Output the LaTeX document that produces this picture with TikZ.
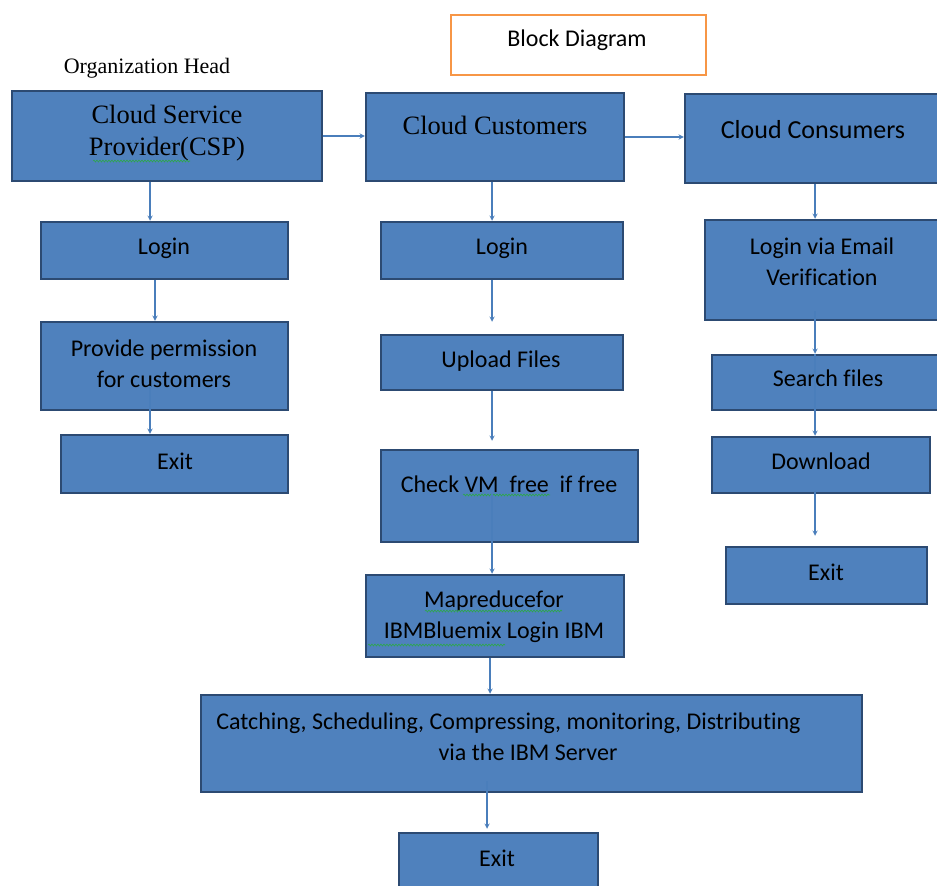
\documentclass[tikz,border=0pt]{standalone}
\usepackage{fontspec}
\setmainfont{Carlito}[Ligatures=NoCommon]
\newfontfamily\timesf{Liberation Serif}
\usetikzlibrary{decorations.pathmorphing}
\definecolor{boxblue}{HTML}{4F81BD}
\definecolor{boxedge}{HTML}{2C4A72}
\definecolor{linkblue}{HTML}{4A7EBB}
\definecolor{titleorange}{HTML}{F79646}
\definecolor{spellgreen}{HTML}{2DA84A}
\begin{document}
\begin{tikzpicture}[x=1pt, y=-1pt, >=stealth,
    blk/.style={draw=boxedge, fill=boxblue, line width=2.5pt, inner sep=0pt},
    wh/.style 2 args={minimum width=#1pt, minimum height=#2pt},
    txt/.style={font=\fontsize{24}{31}\selectfont, align=center, inner sep=0pt},
    sertxt/.style={font=\timesf\fontsize{26.5}{32}\selectfont, align=center, inner sep=0pt},
    flow/.style={draw=linkblue, line width=1.3pt, ->},
    spell/.style={draw=spellgreen, line width=0.6pt, decorate,
        decoration={snake, amplitude=1pt, segment length=3pt}}]
    \useasboundingbox (0,0) rectangle (937,886);
    \clip (0,0) rectangle (937,886);

    % title and heading
    \node[draw=titleorange, line width=2.5pt, wh={255}{60}] (title) at (578.5,45) {};
    \node[txt] (title-t) at (577,40) {Block Diagram};
    \node[font=\timesf\fontsize{22}{26}\selectfont, inner sep=0pt] (orghead) at (147,68) {Organization Head};

    % top row
    \node[blk, wh={310}{90}] (csp) at (167,136) {};
    \node[blk, wh={258}{88}] (cust) at (495,137) {};
    \node[blk, wh={260}{89}] (cons) at (815,138.5) {};
    \node[sertxt] (csp-t) at (167,133) {Cloud Service\\Provider(CSP)};
    \node[sertxt] (cust-t) at (495,125) {Cloud Customers};
    \node[txt, font=\fontsize{26}{31}\selectfont] (cons-t) at (813,130) {Cloud Consumers};

    % provider column
    \node[blk, wh={247}{57}] (lgl) at (164.5,250.5) {};
    \node[blk, wh={247}{88}] (perm) at (164.5,366) {};
    \node[blk, wh={227}{58}] (exl) at (174.5,464) {};
    \node[txt] (lgl-t) at (164,248) {Login};
    \node[txt] (perm-t) at (164,364) {Provide permission\\for customers};
    \node[txt] (exl-t) at (175,461) {Exit};

    % customer column
    \node[blk, wh={242}{57}] (lgm) at (502,250.5) {};
    \node[blk, wh={242}{55}] (upl) at (502,362.5) {};
    \node[blk, wh={257}{92}] (chk) at (509.5,496) {};
    \node[blk, wh={258}{82}] (mapr) at (495,616) {};
    \node[blk, wh={661}{97}] (cach) at (531.5,743.5) {};
    \node[blk, wh={199}{62}] (exm) at (498.5,864) {};
    \node[txt] (lgm-t) at (502,248) {Login};
    \node[txt] (upl-t) at (501,361) {Upload Files};
    \node[txt] (chk-t) at (509,484) {Check VM\ \ free\ \ if free};
    \node[txt] (mapr-t) at (494,617) {Mapreducefor\\IBMBluemix Login IBM};
    \node[txt] (cach-t) at (508.5,736.5) {Catching, Scheduling, Compressing, monitoring, Distributing\\\hspace*{39pt}via the IBM Server};
    \node[txt] (exm-t) at (497,858) {Exit};

    % consumer column
    \node[blk, wh={240}{100}] (lgr) at (825,270) {};
    \node[blk, wh={233}{55}] (srch) at (828.5,382.5) {};
    \node[blk, wh={218}{56}] (dwn) at (821,465) {};
    \node[blk, wh={201}{57}] (exr) at (826.5,575.5) {};
    \node[txt] (lgr-t) at (822,262) {Login via Email\\Verification};
    \node[txt] (srch-t) at (828,378) {Search files};
    \node[txt] (dwn-t) at (821,461) {Download};
    \node[txt] (exr-t) at (826,572) {Exit};

    % spell check marks
    \draw[spell] (93,161) -- (190,161);
    \draw[spell] (463,495) -- (550,495);
    \draw[spell] (425,611) -- (562,611);
    \draw[spell] (368,645) -- (505,645);

    % connectors
    \draw[flow] (csp.east) -- (csp.east -| cust.west);
    \draw[flow] (cust.east) -- (cust.east -| cons.west);

    \draw[flow] ([xshift=-17pt]csp.south) -- ([xshift=-14.5pt]lgl.north);
    \draw[flow] ([xshift=-9.5pt]lgl.south) -- ([xshift=-9.5pt]perm.north);
    \draw[flow] ([xshift=-14.5pt,yshift=25pt]perm.south) -- ([xshift=-24.5pt]exl.north);

    \draw[flow] ([xshift=-3pt]cust.south) -- ([xshift=-10pt]lgm.north);
    \draw[flow] ([xshift=-10pt]lgm.south) -- ([xshift=-10pt,yshift=12pt]upl.north);
    \draw[flow] ([xshift=-10pt]upl.south) -- ([xshift=-17.5pt,yshift=8pt]chk.north);
    \draw[flow] ([xshift=-17.5pt,yshift=49pt]chk.south) -- ([xshift=-3pt]mapr.north);
    \draw[flow] ([xshift=-5pt]mapr.south) -- ([xshift=-41.5pt]cach.north);
    \draw[flow] ([xshift=-44.5pt,yshift=12pt]cach.south) -- ([xshift=-11.5pt,yshift=3pt]exm.north);

    \draw[flow] (cons.south) -- ([xshift=-10pt]lgr.north);
    \draw[flow] ([xshift=-10pt,yshift=10pt]lgr.south) -- ([xshift=-13.5pt]srch.north);
    \draw[flow] ([xshift=-13.5pt]srch.north) -- ([xshift=-6pt]dwn.north);
    \draw[flow] ([xshift=-6pt,yshift=3pt]dwn.south) -- ([xshift=-11.5pt,yshift=10pt]exr.north);
\end{tikzpicture}
\end{document}
